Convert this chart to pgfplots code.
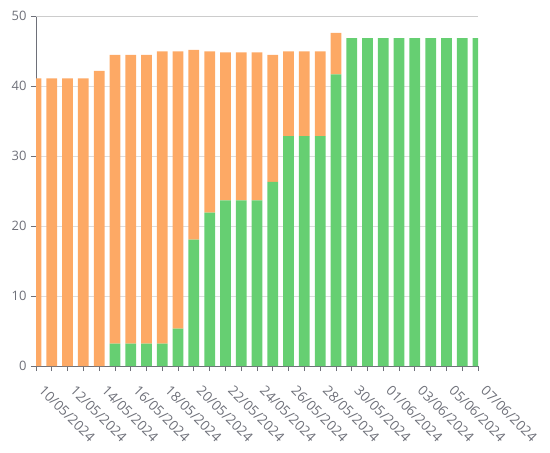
\documentclass[border=0pt]{standalone}
\usepackage{pgfplots}
\pgfplotsset{compat=1.18}
\usepackage{fontspec}
\setmainfont{Open Sans}
\definecolor{orng}{HTML}{FDA965}
\definecolor{grn}{HTML}{66CF72}
\definecolor{axgray}{HTML}{6E7079}
\definecolor{gridc}{HTML}{DEDEDE}
\definecolor{topgrid}{HTML}{CCCCCC}
\pgfplotstableread{
x green orange
0 0 41.1
1 0 41.1
2 0 41.1
3 0 41.1
4 0 42.15
5 3.2 41.25
6 3.2 41.25
7 3.2 41.25
8 3.2 41.75
9 5.35 39.6
10 18.05 27.1
11 21.9 23.05
12 23.65 21.15
13 23.65 21.15
14 23.65 21.15
15 26.3 18.15
16 32.85 12.1
17 32.85 12.1
18 32.85 12.1
19 41.65 5.95
20 46.85 0
21 46.85 0
22 46.85 0
23 46.85 0
24 46.85 0
25 46.85 0
26 46.85 0
27 46.85 0
28 46.85 0
}\data
\begin{document}
\begin{tikzpicture}
\path[use as bounding box] (-36bp,-87bp) rectangle (514bp,366bp);
\begin{axis}[
  scale only axis,
  width=442bp, height=350bp,
  anchor=south west, at={(0,0)},
  xmin=0, xmax=28, ymin=0, ymax=50,
  ybar stacked, bar width=0.68,
  axis x line*=bottom, axis y line*=left,
  axis line style={axgray, line width=0.8pt},
  tick style={axgray, line width=0.8pt},
  tick align=outside,
  major tick length=5bp,
  xtick={0,...,28},
  xticklabels={10/05/2024,,12/05/2024,,14/05/2024,,16/05/2024,,18/05/2024,,20/05/2024,,22/05/2024,,24/05/2024,,26/05/2024,,28/05/2024,,30/05/2024,,01/06/2024,,03/06/2024,,05/06/2024,,07/06/2024},
  xticklabel style={xshift=9bp, yshift=-12bp, rotate=-45, anchor=north west, font=\fontsize{13.7}{15}\selectfont, text=axgray, inner sep=1bp},
  ytick={0,10,20,30,40,50},
  yticklabel style={font=\fontsize{13}{15}\selectfont, text=axgray, xshift=-1bp},
  /pgf/number format/assume math mode=true,
  ymajorgrids,
  grid style={gridc, line width=0.8pt},
  clip=true,
]
\draw[topgrid, line width=0.8pt] (axis cs:0,50) -- (axis cs:28,50);
\addplot[fill=grn, draw=none] table[x=x, y=green] {\data};
\addplot[fill=orng, draw=none] table[x=x, y=orange] {\data};
\end{axis}
\end{tikzpicture}
\end{document}
